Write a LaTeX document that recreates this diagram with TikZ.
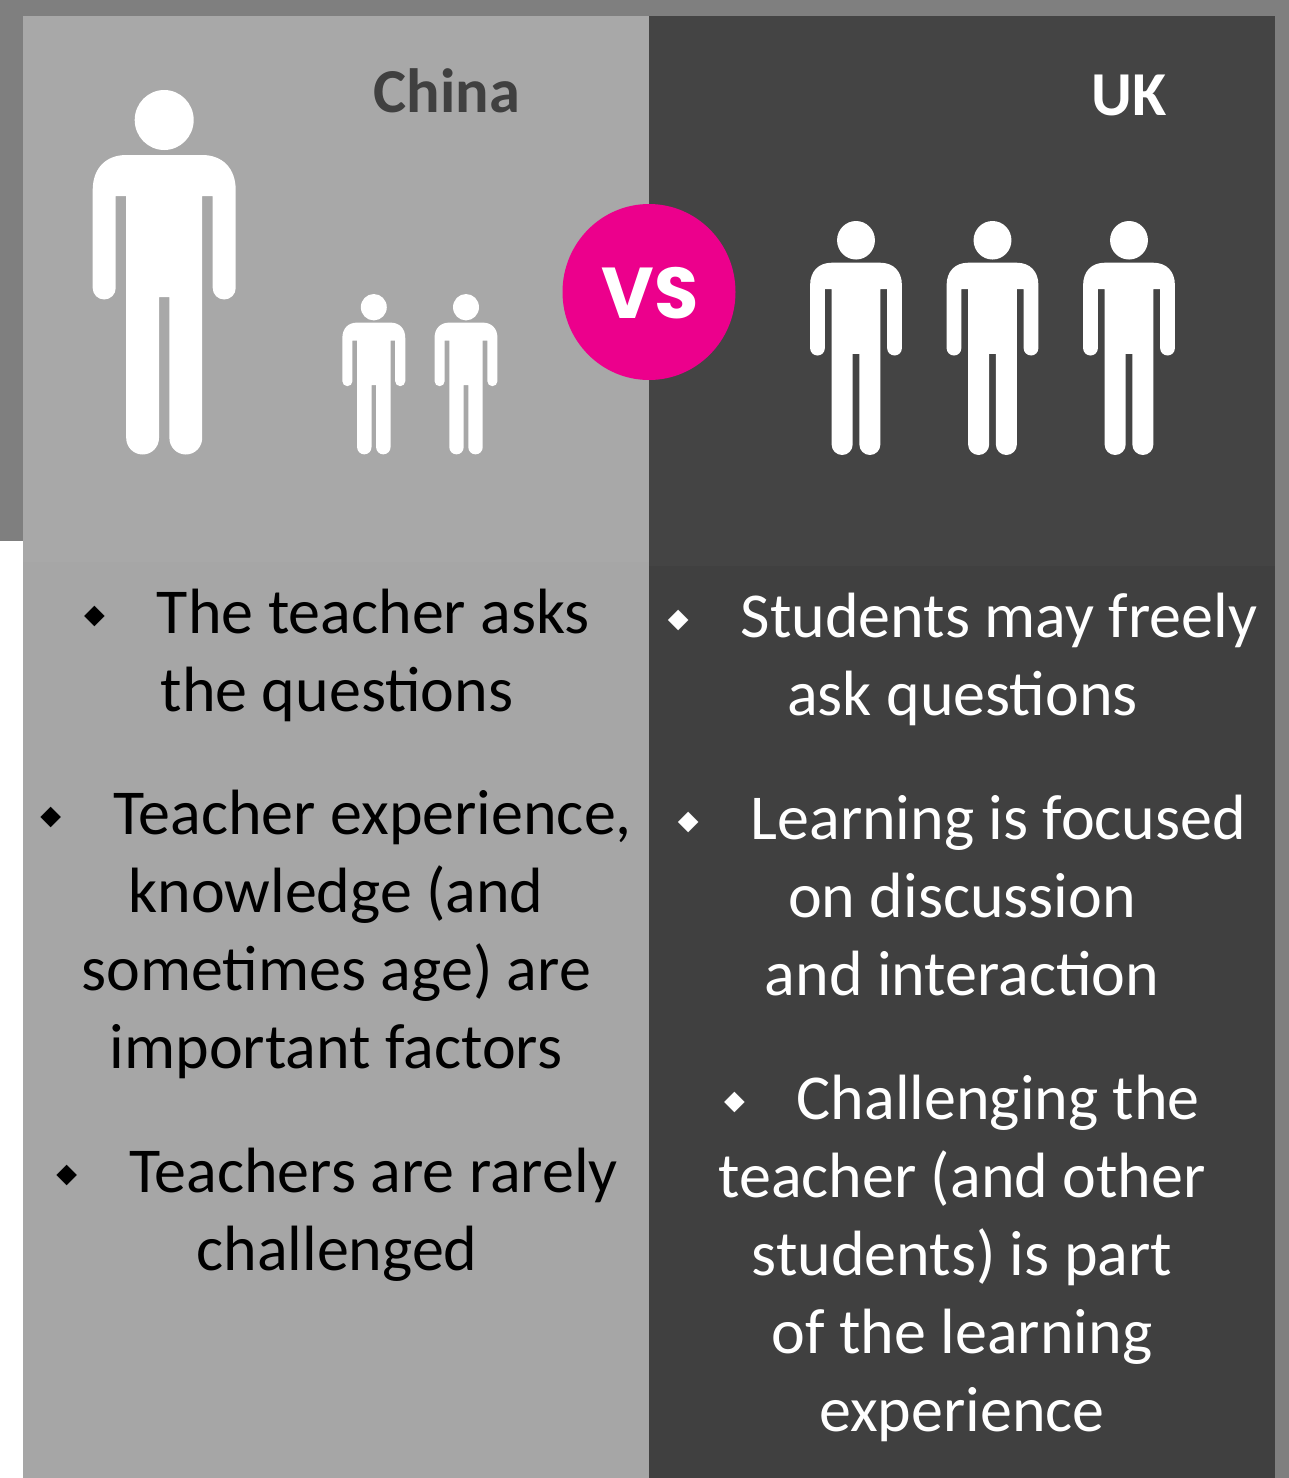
\documentclass[tikz,border=0pt]{standalone}
\usepackage{fontspec}
\usetikzlibrary{shapes.geometric}
\setmainfont{Carlito}
\newfontfamily\symfont{DejaVu Sans}
\newfontfamily\vsfont{Poppins}
\definecolor{framegrey}{HTML}{7F7F7F}
\definecolor{lighttop}{HTML}{A8A8A8}
\definecolor{lightlow}{HTML}{A6A6A6}
\definecolor{darktop}{HTML}{444444}
\definecolor{darklow}{HTML}{404040}
\definecolor{vspink}{HTML}{EC008C}
\newcommand{\bul}[1]{{\fontsize{27}{27}\symfont\raisebox{10pt}{◆}}\hspace{#1pt}}
\newcommand{\person}[3]{%
\begin{scope}[shift={(#1,#2)},x=#3pt,y=-#3pt]
\fill[white] (0,30) ellipse [x radius=29.5, y radius=30];
\fill[white] (-71.5,100) .. controls (-71.5,78) and (-58,65) .. (-38,65) -- (38,65)
 .. controls (58,65) and (71.5,78) .. (71.5,100) -- (71.5,198)
 .. controls (71.5,204.4) and (66.4,209.5) .. (60,209.5)
 .. controls (53.6,209.5) and (48.5,204.4) .. (48.5,198)
 -- (48.5,106) -- (38,106) -- (38,348)
 .. controls (38,357.1) and (30.7,364.5) .. (21.6,364.5)
 .. controls (12.5,364.5) and (5.2,357.1) .. (5.2,348)
 -- (5.2,207) -- (-5.2,207) -- (-5.2,348)
 .. controls (-5.2,357.1) and (-12.5,364.5) .. (-21.6,364.5)
 .. controls (-30.7,364.5) and (-38,357.1) .. (-38,348)
 -- (-38,106) -- (-48.5,106) -- (-48.5,198)
 .. controls (-48.5,204.4) and (-53.6,209.5) .. (-60,209.5)
 .. controls (-66.4,209.5) and (-71.5,204.4) .. (-71.5,198) -- cycle;
\end{scope}}
\tikzset{
  body/.style={font=\fontsize{64}{78}\selectfont, align=center, anchor=base, inner sep=0pt},
  onlight/.style={body, text=black},
  ondark/.style={body, text=white},
  heading/.style={font=\fontsize{62.5}{72}\selectfont\bfseries, anchor=base, inner sep=0pt}
}
\begin{document}
\begin{tikzpicture}[x=1pt,y=-1pt]
\useasboundingbox (0,0) rectangle (1289,1478);
\fill[white] (0,0) rectangle (1289,1478);
\fill[framegrey] (0,0) rectangle (1289,541);
\fill[framegrey] (1275,0) rectangle (1289,1478);
\fill[lighttop] (22.5,16) rectangle (649,562);
\fill[lightlow] (22.5,562) rectangle (649,1478);
\fill[darktop] (649,16) rectangle (1275,566);
\fill[darklow] (649,566) rectangle (1275,1478);
\person{164.2}{90}{1}
\person{373.8}{294}{0.44}
\person{466}{294}{0.44}
\person{856}{221}{0.642}
\person{992.5}{221}{0.642}
\person{1129}{221}{0.642}
\node[heading, text=darklow] (china) at (447,112) {China};
\node[heading, text=white] (uk) at (1129,115) {UK};
\node[ellipse, fill=vspink, minimum width=173pt, minimum height=176pt, inner sep=0pt] (vsdisc) at (649,292) {};
\node[font=\fontsize{72}{72}\vsfont\bfseries, text=white, anchor=base, inner sep=0pt] (vs) at (650,318) {VS};
\node[onlight] (l1) at (337,711) {\bul{52}The teacher asks\\the questions};
\node[onlight] (l2) at (336,1068.5) {\bul{52}Teacher experience,\\knowledge (and\\sometimes age) are\\important factors};
\node[onlight] (l3) at (337,1270) {\bul{52}Teachers are rarely\\challenged};
\node[ondark] (r1) at (962.5,715) {\bul{52}Students may freely\\ask questions};
\node[ondark] (r2) at (962,995) {\bul{52}Learning is focused\\on discussion\\and interaction};
\node[ondark] (r3) at (962,1431) {\bul{52}Challenging the\\teacher (and other\\students) is part\\of the learning\\experience};
\end{tikzpicture}
\end{document}
